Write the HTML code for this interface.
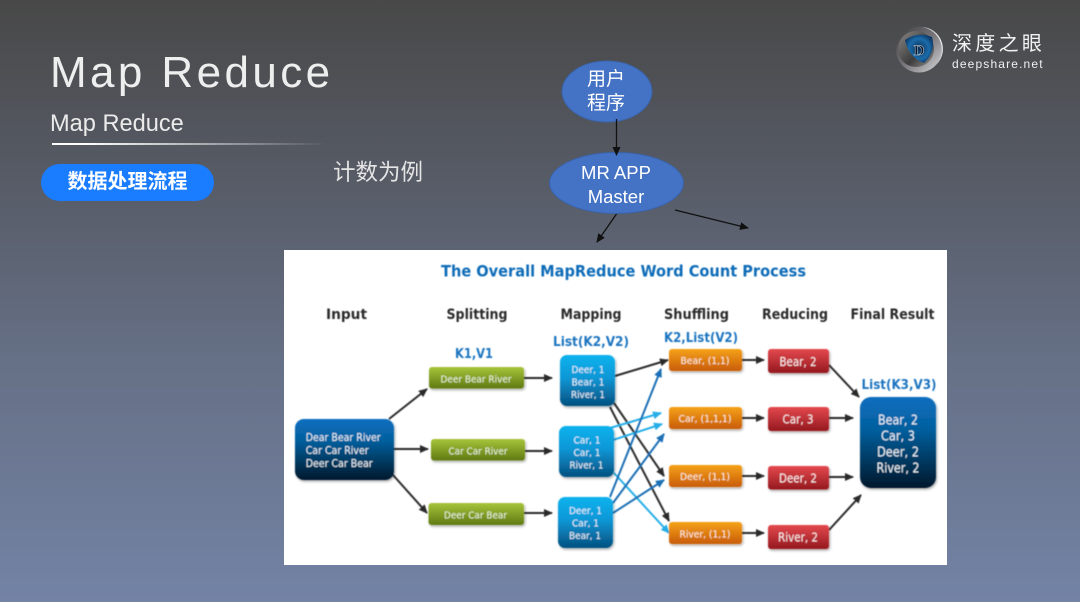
<!DOCTYPE html>
<html><head><meta charset="utf-8">
<style>
html,body{margin:0;padding:0}
body{width:1080px;height:602px;overflow:hidden;position:relative;background:linear-gradient(180deg,#484848 0%,#545861 25%,#667086 60%,#7383a5 100%);font-family:"Liberation Sans","Noto Sans CJK SC",sans-serif}
.a{position:absolute;white-space:nowrap}
svg{position:absolute;left:0;top:0}
</style></head><body>
<div class="a" style="left:50px;top:46px;font-size:44px;line-height:54px;letter-spacing:3.400px;color:#eeeeee">Map Reduce</div>
<div class="a" style="left:50px;top:108px;font-size:23.600px;line-height:32px;color:#ebebeb">Map Reduce</div>
<div class="a" style="left:52px;top:143px;width:275px;height:2px;background:linear-gradient(90deg,#fff 0%,#fff 12%,rgba(255,255,255,0) 100%)"></div>
<div class="a" style="left:41px;top:164px;width:173px;height:37px;border-radius:19px;background:#1a7cff;color:#fff;font-size:20px;font-weight:bold;line-height:36px;text-align:center">数据处理流程</div>
<div class="a" style="left:333px;top:157px;font-size:22.500px;line-height:32px;color:#e4e4e4">计数为例</div>
<div class="a" style="left:284px;top:250px;width:663px;height:315px;background:#fff"></div>
<svg width="1080" height="602" viewBox="0 0 1080 602" font-family="'Liberation Sans','Noto Sans CJK SC',sans-serif">
<defs>
<linearGradient id="dk" x1="0" y1="0" x2="0" y2="1"><stop offset="0" stop-color="#0a6fc0"/><stop offset=".35" stop-color="#05609f"/><stop offset="1" stop-color="#02182c"/></linearGradient>
<linearGradient id="gr" x1="0" y1="0" x2="0" y2="1"><stop offset="0" stop-color="#a8c43a"/><stop offset="1" stop-color="#5f7a12"/></linearGradient>
<linearGradient id="cy" x1="0" y1="0" x2="0" y2="1"><stop offset="0" stop-color="#0fb2ee"/><stop offset=".45" stop-color="#0d97d6"/><stop offset="1" stop-color="#04507f"/></linearGradient>
<linearGradient id="or" x1="0" y1="0" x2="0" y2="1"><stop offset="0" stop-color="#f6a21a"/><stop offset="1" stop-color="#c85c06"/></linearGradient>
<linearGradient id="rd" x1="0" y1="0" x2="0" y2="1"><stop offset="0" stop-color="#e4494e"/><stop offset="1" stop-color="#94191f"/></linearGradient>
<linearGradient id="ring" x1="0" y1="0" x2="1" y2="1"><stop offset="0" stop-color="#3a3a3a"/><stop offset=".5" stop-color="#77747a"/><stop offset="1" stop-color="#d8d8d8"/></linearGradient>
<linearGradient id="sock" x1="0" y1="0" x2="1" y2="1"><stop offset="0" stop-color="#8a8886"/><stop offset=".6" stop-color="#3d3d3d"/><stop offset="1" stop-color="#9a9896"/></linearGradient>
<radialGradient id="iris" cx=".5" cy=".5" r=".55"><stop offset="0" stop-color="#0d2f55"/><stop offset=".65" stop-color="#1b6cab"/><stop offset="1" stop-color="#0c3a68"/></radialGradient>
<marker id="mk" markerUnits="userSpaceOnUse" markerWidth="9" markerHeight="8" refX="8" refY="4" orient="auto"><path d="M0 0L9 4L0 8z" fill="#111"/></marker>
<marker id="m2" markerUnits="userSpaceOnUse" markerWidth="9" markerHeight="8" refX="8" refY="4" orient="auto"><path d="M0 0L9 4L0 8z" fill="#2b2b2b"/></marker>
<marker id="mb" markerUnits="userSpaceOnUse" markerWidth="9" markerHeight="8" refX="8" refY="4" orient="auto"><path d="M0 0L9 4L0 8z" fill="#1a6fb5"/></marker>
<marker id="mc" markerUnits="userSpaceOnUse" markerWidth="9" markerHeight="8" refX="8" refY="4" orient="auto"><path d="M0 0L9 4L0 8z" fill="#26aee6"/></marker>
<filter id="sh" x="-10%" y="-15%" width="125%" height="140%"><feDropShadow dx="1" dy="1.500" stdDeviation="1.200" flood-color="#000" flood-opacity=".35"/></filter>
<filter id="bl" x="-5%" y="-5%" width="110%" height="110%"><feGaussianBlur stdDeviation=".5"/></filter>
</defs>

<!-- flow ellipses -->
<ellipse cx="607" cy="91.500" rx="45" ry="30.500" fill="#4472c4" stroke="#3a63ab" stroke-width="1"/>
<ellipse cx="616.500" cy="183" rx="67" ry="30.500" fill="#4472c4" stroke="#3a63ab" stroke-width="1"/>
<text x="606" y="85" font-size="19" fill="#fff" text-anchor="middle">用户</text>
<text x="606" y="109" font-size="19" fill="#fff" text-anchor="middle">程序</text>
<text x="616" y="179" font-size="18.500" fill="#fff" text-anchor="middle">MR APP</text>
<text x="616" y="203" font-size="18.500" fill="#fff" text-anchor="middle">Master</text>
<line x1="616.500" y1="119" x2="616.500" y2="155" stroke="#111" stroke-width="1.300" marker-end="url(#mk)"/>
<line x1="616.500" y1="214" x2="597" y2="242" stroke="#111" stroke-width="1.300" marker-end="url(#mk)"/>
<line x1="675" y1="210" x2="748" y2="228" stroke="#111" stroke-width="1.300" marker-end="url(#mk)"/>

<!-- logo -->
<circle cx="919" cy="49.500" r="23" fill="url(#ring)"/>
<path d="M922 27A23 23 0 0 1 936 65A22 22 0 0 0 922 27z" fill="#e6e6e6"/>
<circle cx="916" cy="49" r="18" fill="url(#sock)"/>
<path d="M905 40Q918 31 932 37Q936 52 924 63Q909 58 905 40z" fill="url(#iris)"/>
<text x="919" y="55" font-size="15" font-weight="bold" font-family="'Liberation Serif',serif" fill="#0a1a2e" stroke="#d8e4f0" stroke-width=".4" text-anchor="middle">D</text>
<text x="952" y="50" font-size="20" fill="#f2f2f2" letter-spacing="3.300">深度之眼</text>
<text x="952" y="68" font-size="12" fill="#f0f0f0" letter-spacing="1.150">deepshare.net</text>

<g filter="url(#bl)">
<!-- headers -->
<g font-family="'DejaVu Sans',sans-serif" font-weight="bold" text-anchor="middle" lengthAdjust="spacingAndGlyphs">
<text x="623.500" y="276.500" font-size="16" fill="#0d6cb8" textLength="365" lengthAdjust="spacingAndGlyphs">The Overall MapReduce Word Count Process</text>
<g font-size="14" fill="#2a2a2a">
<text x="346.500" y="319" textLength="41" lengthAdjust="spacingAndGlyphs">Input</text>
<text x="477" y="319" textLength="61" lengthAdjust="spacingAndGlyphs">Splitting</text>
<text x="591" y="319" textLength="61" lengthAdjust="spacingAndGlyphs">Mapping</text>
<text x="696.500" y="319" textLength="65" lengthAdjust="spacingAndGlyphs">Shuffling</text>
<text x="795" y="319" textLength="66" lengthAdjust="spacingAndGlyphs">Reducing</text>
<text x="892.500" y="319" textLength="84" lengthAdjust="spacingAndGlyphs">Final Result</text>
</g>
<g font-size="13" fill="#1b74c0">
<text x="474" y="358" textLength="38" lengthAdjust="spacingAndGlyphs">K1,V1</text>
<text x="591" y="346" textLength="76" lengthAdjust="spacingAndGlyphs">List(K2,V2)</text>
<text x="701" y="342" textLength="74" lengthAdjust="spacingAndGlyphs">K2,List(V2)</text>
<text x="899" y="389" textLength="75" lengthAdjust="spacingAndGlyphs">List(K3,V3)</text>
</g>
</g>

<!-- arrows -->
<g fill="none" stroke="#2b2b2b" stroke-width="2" marker-end="url(#m2)">
<line x1="389" y1="419" x2="427" y2="389"/>
<line x1="394" y1="449" x2="428" y2="449"/>
<line x1="393" y1="475" x2="427" y2="513"/>
<line x1="524" y1="378" x2="552" y2="378"/>
<line x1="525" y1="451" x2="552" y2="451"/>
<line x1="524" y1="513" x2="552" y2="513"/>
<line x1="615" y1="376" x2="668" y2="360"/>
<line x1="614" y1="403" x2="664" y2="476"/>
<line x1="610" y1="407" x2="669" y2="521"/>
<line x1="742" y1="360" x2="764" y2="360"/>
<line x1="742" y1="418" x2="764" y2="418"/>
<line x1="742" y1="476" x2="764" y2="476"/>
<line x1="742" y1="533" x2="764" y2="533"/>
<line x1="829" y1="365" x2="859" y2="397"/>
<line x1="829" y1="418" x2="853" y2="418"/>
<line x1="829" y1="477" x2="853" y2="477"/>
<line x1="829" y1="530" x2="861" y2="495"/>
</g>
<g fill="none" stroke="#26aee6" stroke-width="2" marker-end="url(#mc)">
<line x1="610" y1="428" x2="661" y2="413"/>
<line x1="613" y1="440" x2="662" y2="424"/>
<line x1="614" y1="473" x2="669" y2="533"/>
</g>
<g fill="none" stroke="#1a6fb5" stroke-width="2" marker-end="url(#mb)">
<line x1="610" y1="497" x2="661" y2="369"/>
<line x1="613" y1="503" x2="664" y2="434"/>
<line x1="613" y1="513" x2="664" y2="480"/>
</g>

<!-- boxes -->
<g filter="url(#sh)">
<rect x="295" y="419" width="99" height="61" rx="9" fill="url(#dk)"/>
<rect x="429" y="367" width="95" height="21.500" rx="3" fill="url(#gr)"/>
<rect x="431" y="439" width="94" height="21.500" rx="3" fill="url(#gr)"/>
<rect x="428.500" y="503" width="95.500" height="22" rx="3" fill="url(#gr)"/>
<rect x="560" y="355" width="55" height="51" rx="7" fill="url(#cy)"/>
<rect x="559" y="426" width="55" height="51" rx="7" fill="url(#cy)"/>
<rect x="558" y="497" width="55" height="51" rx="7" fill="url(#cy)"/>
<rect x="669" y="349" width="73" height="22" rx="3" fill="url(#or)"/>
<rect x="669" y="407" width="73" height="22" rx="3" fill="url(#or)"/>
<rect x="669" y="465" width="73" height="22" rx="3" fill="url(#or)"/>
<rect x="669" y="522" width="73" height="22" rx="3" fill="url(#or)"/>
<rect x="768" y="349" width="61" height="24" rx="3" fill="url(#rd)"/>
<rect x="768" y="407" width="61" height="24" rx="3" fill="url(#rd)"/>
<rect x="768" y="466" width="61" height="23.500" rx="3" fill="url(#rd)"/>
<rect x="768" y="525" width="61" height="24" rx="3" fill="url(#rd)"/>
<rect x="860" y="397" width="76" height="91" rx="11" fill="url(#dk)"/>
</g>

<!-- box text -->
<g font-family="'DejaVu Sans',sans-serif">
<g font-size="10.500" fill="#e8f1f7">
<text x="305.700" y="441" textLength="75" lengthAdjust="spacingAndGlyphs">Dear Bear River</text>
<text x="305.700" y="454" textLength="63" lengthAdjust="spacingAndGlyphs">Car Car River</text>
<text x="305.700" y="467" textLength="67" lengthAdjust="spacingAndGlyphs">Deer Car Bear</text>
</g>
<g font-size="10" fill="#eef3dc" text-anchor="middle">
<text x="476" y="382.500" textLength="71" lengthAdjust="spacingAndGlyphs">Deer Bear River</text>
<text x="478" y="454.500" textLength="59" lengthAdjust="spacingAndGlyphs">Car Car River</text>
<text x="475.500" y="518.500" textLength="63" lengthAdjust="spacingAndGlyphs">Deer Car Bear</text>
</g>
<g font-size="10" fill="#e8f4fb" text-anchor="middle">
<text x="588" y="373" textLength="33" lengthAdjust="spacingAndGlyphs">Deer, 1</text><text x="588" y="385.500" textLength="33" lengthAdjust="spacingAndGlyphs">Bear, 1</text><text x="588" y="398" textLength="34" lengthAdjust="spacingAndGlyphs">River, 1</text>
<text x="587" y="443.500" textLength="27" lengthAdjust="spacingAndGlyphs">Car, 1</text><text x="587" y="456" textLength="27" lengthAdjust="spacingAndGlyphs">Car, 1</text><text x="586.500" y="468.500" textLength="34" lengthAdjust="spacingAndGlyphs">River, 1</text>
<text x="585.500" y="514" textLength="33" lengthAdjust="spacingAndGlyphs">Deer, 1</text><text x="585.500" y="526.500" textLength="27" lengthAdjust="spacingAndGlyphs">Car, 1</text><text x="585" y="539" textLength="32" lengthAdjust="spacingAndGlyphs">Bear, 1</text>
</g>
<g font-size="10" fill="#fdeedd" text-anchor="middle">
<text x="705" y="364" textLength="49" lengthAdjust="spacingAndGlyphs">Bear, (1,1)</text>
<text x="705" y="422" textLength="53" lengthAdjust="spacingAndGlyphs">Car, (1,1,1)</text>
<text x="705" y="480" textLength="50" lengthAdjust="spacingAndGlyphs">Deer, (1,1)</text>
<text x="705" y="537.500" textLength="51" lengthAdjust="spacingAndGlyphs">River, (1,1)</text>
</g>
<g font-size="12" fill="#fbe9e9" text-anchor="middle">
<text x="798" y="366" textLength="37" lengthAdjust="spacingAndGlyphs">Bear, 2</text>
<text x="798" y="423.500" textLength="31" lengthAdjust="spacingAndGlyphs">Car, 3</text>
<text x="798" y="482.500" textLength="38" lengthAdjust="spacingAndGlyphs">Deer, 2</text>
<text x="798" y="541.500" textLength="40" lengthAdjust="spacingAndGlyphs">River, 2</text>
</g>
<g font-size="13" fill="#e8f1f7" text-anchor="middle">
<text x="898" y="424.500" textLength="40" lengthAdjust="spacingAndGlyphs">Bear, 2</text>
<text x="898" y="440.500" textLength="34" lengthAdjust="spacingAndGlyphs">Car, 3</text>
<text x="898" y="456.500" textLength="42" lengthAdjust="spacingAndGlyphs">Deer, 2</text>
<text x="898" y="472.500" textLength="43" lengthAdjust="spacingAndGlyphs">River, 2</text>
</g>
</g>
</g>
</svg>
</body></html>
